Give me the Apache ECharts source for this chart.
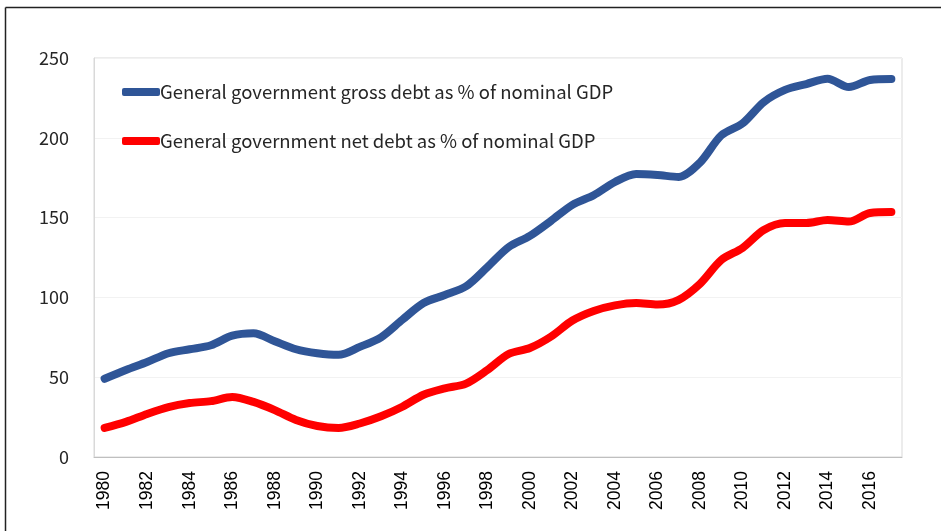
<!DOCTYPE html>
<html><head><meta charset="utf-8">
<script src="https://cdn.jsdelivr.net/npm/echarts@6/dist/echarts.min.js"></script>
<style>html,body{margin:0;padding:0;background:#fff;}#c{width:941px;height:531px;}</style>
</head><body><div id="c"></div>
<script>
var years = [];
for (var y = 1980; y <= 2017; y++) years.push(String(y));
var grossName = 'General government gross debt as % of nominal GDP';
var netName = 'General government net debt as % of nominal GDP';
var grossDebt = [49, 54.5, 59.5, 65, 67.5, 70, 76, 77.5, 72.5, 67.5, 65, 64, 69, 75, 86, 96.5, 101.5, 107, 119, 131.5, 138.5, 148, 158, 164, 172.3, 177.3, 176.7, 175.5, 184.5, 201.5, 209, 222.4, 230, 233.7, 237, 231.8, 236.2, 236.8];
var netDebt = [18.2, 22, 27, 31.3, 33.8, 35, 37.6, 34.5, 29.4, 23.2, 19.4, 18.2, 21, 25.5, 31.5, 39, 43, 46, 54.5, 64.5, 68.3, 75.5, 85.5, 91.5, 95, 96.5, 95.5, 98.5, 108.5, 123.4, 131, 142.2, 146.6, 146.6, 148.5, 147.5, 152.9, 153.5];
var yTicks = { min: 0, max: 250, interval: 50 };

var chart = echarts.init(document.getElementById('c'), null, { renderer: 'canvas' });
chart.setOption({
  backgroundColor: '#fff',
  animation: false,
  graphic: [
    { type: 'line', shape: { x1: 5.5, y1: 7.5, x2: 941, y2: 7.5 }, style: { stroke: '#222', lineWidth: 1.5 } },
    { type: 'line', shape: { x1: 5.5, y1: 7.5, x2: 5.5, y2: 531 }, style: { stroke: '#222', lineWidth: 1.5 } }
  ],
  grid: { left: 94, top: 58, width: 808, height: 399, show: true, borderColor: '#d9d9d9', borderWidth: 1, containLabel: false },
  legend: {
    orient: 'vertical', left: 122, top: 82, itemGap: 29, padding: 0,
    icon: 'roundRect', itemWidth: 38, itemHeight: 8,
    textStyle: { fontFamily: 'Noto Sans CJK JP', fontSize: 18.5, color: '#262626', lineHeight: 20, padding: [0, 0, 0, -5] },
    data: [grossName, netName]
  },
  xAxis: {
    type: 'category', data: years, boundaryGap: true,
    axisLine: { show: true, lineStyle: { color: '#bfbfbf', width: 1 } },
    axisTick: { show: false },
    axisLabel: { interval: 1, rotate: 90, margin: 14, fontFamily: 'Liberation Sans, Arial, sans-serif', fontSize: 17.5, color: '#000' },
    splitLine: { show: false }
  },
  yAxis: {
    type: 'value', min: yTicks.min, max: yTicks.max, interval: yTicks.interval,
    axisLine: { show: true, lineStyle: { color: '#d9d9d9' } },
    axisTick: { show: false },
    axisLabel: { margin: 25, fontFamily: 'Noto Sans CJK JP', fontSize: 18, color: '#262626' },
    splitLine: { show: true, lineStyle: { color: '#f2f2f2', width: 1 } }
  },
  series: [
    { name: grossName, type: 'line', data: grossDebt, smooth: 0.3, symbol: 'none', color: '#2F5597',
      lineStyle: { width: 8, color: '#2F5597', cap: 'round', join: 'round' } },
    { name: netName, type: 'line', data: netDebt, smooth: 0.3, symbol: 'none', color: '#FF0000',
      lineStyle: { width: 8, color: '#FF0000', cap: 'round', join: 'round' } }
  ]
});
</script></body></html>
